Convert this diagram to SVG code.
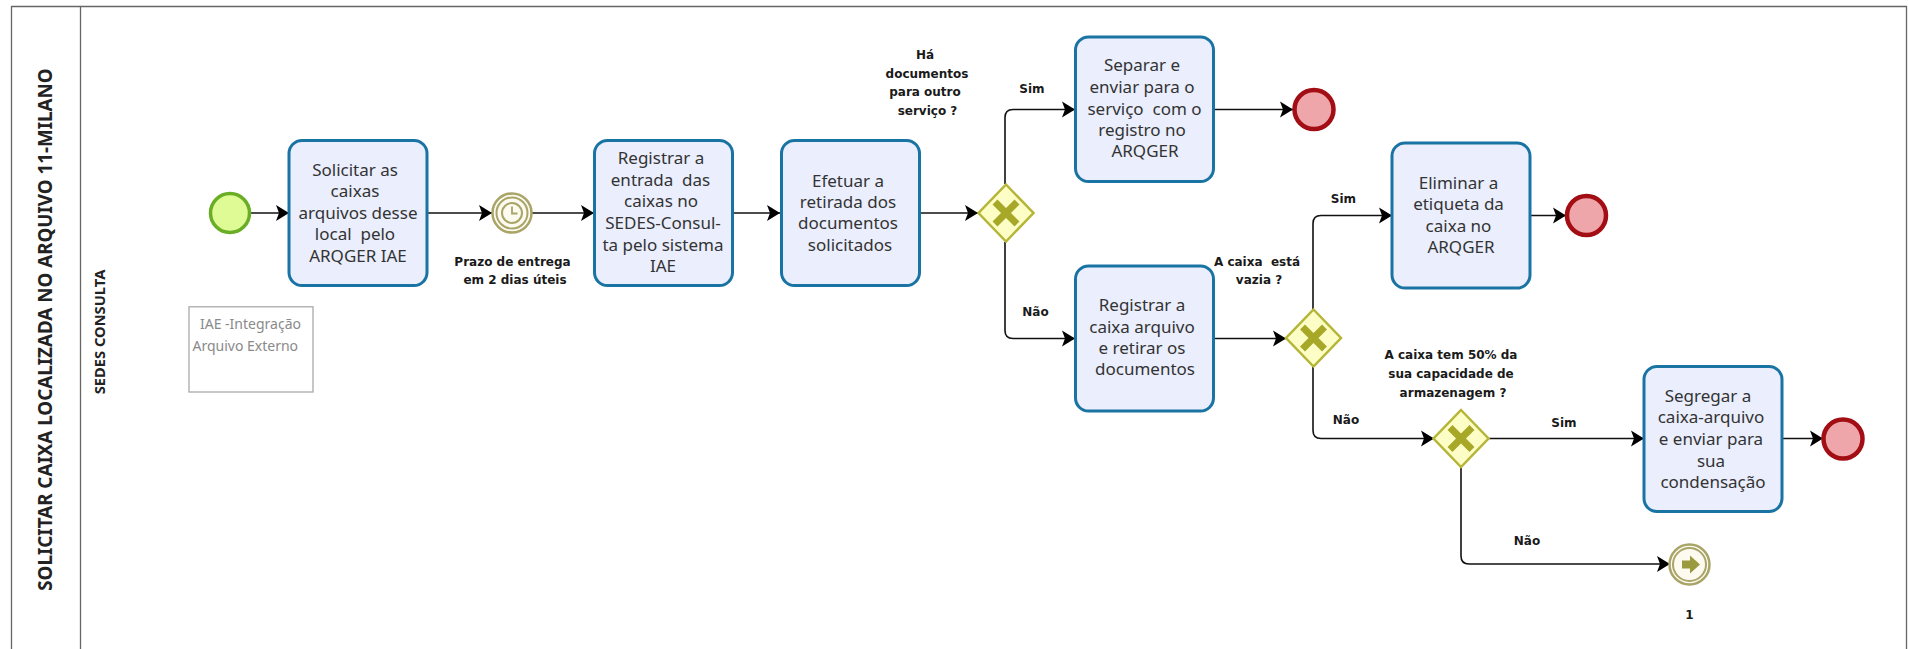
<svg xmlns="http://www.w3.org/2000/svg" width="1909" height="649" viewBox="0 0 1909 649">
<style>
text{white-space:pre}
.t{font:17px "Noto Sans","Open Sans",sans-serif;fill:#333;text-anchor:middle}
.l{font:bold 12px "DejaVu Sans",sans-serif;fill:#1a1a1a;text-anchor:middle}
.n{font:14px "Noto Sans",sans-serif;fill:#8a8a8a}
.task{fill:#eaeefd;stroke:#1a74a3;stroke-width:3}
.ev-s{fill:#dffb96;stroke:#6aae26;stroke-width:3.5}
.ev-e{fill:#eea6ab;stroke:#a20e14;stroke-width:4.5}
.gw{fill:#fdfdc6;stroke:#b5b537;stroke-width:2.5}
.gx{fill:none;stroke:#a8a828;stroke-width:7}
.in{fill:#fdfbf0;stroke:#a9a468;stroke-width:2}
.c{fill:none;stroke:#111;stroke-width:1.6;marker-end:url(#a)}
</style>
<defs>
<marker id="a" markerUnits="userSpaceOnUse" markerWidth="16" markerHeight="18" refX="14" refY="9" orient="auto">
<path d="M1 1L14 9L1 17L4 9Z" fill="#000"/>
</marker>
</defs>
<rect width="1909" height="649" fill="#fff"/>
<g id="pool">
<path d="M11.500 649V6.500H1906.500V649M80.500 6.500V649" fill="none" stroke="#666" stroke-width="1.300"/>
<text transform="translate(51.500 329.500) rotate(-90)" text-anchor="middle" style="font:bold 18.800px 'Noto Sans',sans-serif;fill:#222">SOLICITAR CAIXA LOCALIZADA NO ARQUIVO 11-MILANO</text>
<text transform="translate(105 332) rotate(-90)" text-anchor="middle" style="font:bold 14.700px 'Noto Sans',sans-serif;fill:#222">SEDES CONSULTA</text>
</g>
<g id="connectors">
<path class="c" d="M250 213H289"/>
<path class="c" d="M427 213H492"/>
<path class="c" d="M532 213H594"/>
<path class="c" d="M733 213H780"/>
<path class="c" d="M920 213H978"/>
<path class="c" d="M1005 184V117.500Q1005 109.500 1013 109.500H1075"/>
<path class="c" d="M1005 242V330.500Q1005 338.500 1013 338.500H1075"/>
<path class="c" d="M1214 109.500H1293"/>
<path class="c" d="M1214 338.500H1286"/>
<path class="c" d="M1313 309V223.500Q1313 215.500 1321 215.500H1392"/>
<path class="c" d="M1313 367V430.500Q1313 438.500 1321 438.500H1434"/>
<path class="c" d="M1530 215.500H1566"/>
<path class="c" d="M1489 438.500H1644"/>
<path class="c" d="M1782 438.500H1823"/>
<path class="c" d="M1461 467V556Q1461 564 1469 564H1670"/>
</g>
<g id="start"><circle class="ev-s" cx="230" cy="213" r="19.500"/></g>
<g id="task1"><rect class="task" x="289" y="140.500" width="138" height="145" rx="13"/>
<text class="t" x="355" y="175.500">Solicitar as</text><text class="t" x="355" y="196.700">caixas</text><text class="t" x="358" y="218.500">arquivos desse</text><text class="t" x="355" y="240.300">local  pelo</text><text class="t" x="358" y="261.600">ARQGER IAE</text></g>
<g id="timer"><circle cx="512" cy="213" r="19.500" fill="#fdfbf0" stroke="#a9a468" stroke-width="2.500"/><circle class="in" cx="512" cy="213" r="15.500"/><circle class="in" cx="512" cy="213" r="10"/><path d="M512 206.500V213.500H517.500" fill="none" stroke="#a9a468" stroke-width="1.800"/>
<text class="l" x="512.500" y="265.700">Prazo de entrega</text><text class="l" x="515" y="283.900">em 2 dias úteis</text></g>
<g id="note"><rect x="189" y="306.800" width="124" height="85.200" fill="#fff" stroke="#aaa" stroke-width="1.300"/>
<text class="n" x="200" y="329">IAE -Integração</text><text class="n" x="192.500" y="350.500">Arquivo Externo</text></g>
<g id="task2"><rect class="task" x="594.500" y="140.500" width="138" height="145" rx="13"/>
<text class="t" x="661" y="164.300">Registrar a</text><text class="t" x="660.500" y="186">entrada  das</text><text class="t" x="661" y="207.400">caixas no</text><text class="t" x="663" y="229.200">SEDES-Consul-</text><text class="t" x="663" y="250.500">ta pelo sistema</text><text class="t" x="663" y="271.800">IAE</text></g>
<g id="task3"><rect class="task" x="781.500" y="140.500" width="138" height="145" rx="13"/>
<text class="t" x="848" y="186.600">Efetuar a</text><text class="t" x="848" y="207.900">retirada dos</text><text class="t" x="848" y="229.200">documentos</text><text class="t" x="850" y="250.500">solicitados</text></g>
<g id="gateway1"><path class="gw" d="M1006 184.500L1033.500 213L1006 241.500L978.500 213Z"/><path class="gx" d="M995 202L1017 224M1017 202L995 224"/>
<text class="l" x="925" y="58.800">Há</text><text class="l" x="927" y="77.600">documentos</text><text class="l" x="925" y="96.300">para outro</text><text class="l" x="927.500" y="114.600">serviço ?</text>
<text class="l" x="1032" y="92.800">Sim</text><text class="l" x="1035.500" y="315.900">Não</text></g>
<g id="task4"><rect class="task" x="1075.500" y="37" width="138" height="144.500" rx="13"/>
<text class="t" x="1142" y="71">Separar e</text><text class="t" x="1142" y="93.300">enviar para o</text><text class="t" x="1144.500" y="114.600">serviço  com o</text><text class="t" x="1142" y="135.900">registro no</text><text class="t" x="1145" y="157.200">ARQGER</text></g>
<g id="end1"><circle class="ev-e" cx="1314" cy="109.500" r="19.500"/></g>
<g id="task5"><rect class="task" x="1075.500" y="266" width="138" height="145" rx="13"/>
<text class="t" x="1142" y="311.300">Registrar a</text><text class="t" x="1142" y="332.600">caixa arquivo</text><text class="t" x="1142" y="354.400">e retirar os</text><text class="t" x="1145" y="375.200">documentos</text></g>
<g id="gateway2"><path class="gw" d="M1313.500 309.500L1341 338L1313.500 366.500L1286 338Z"/><path class="gx" d="M1302.500 327L1324.500 349M1324.500 327L1302.500 349"/>
<text class="l" x="1257" y="265.700">A caixa  está</text><text class="l" x="1259" y="283.900">vazia ?</text>
<text class="l" x="1343.500" y="203.300">Sim</text><text class="l" x="1346" y="423.900">Não</text></g>
<g id="task6"><rect class="task" x="1392" y="143" width="138" height="145" rx="13"/>
<text class="t" x="1458.500" y="188.600">Eliminar a</text><text class="t" x="1458.500" y="210.400">etiqueta da</text><text class="t" x="1458.500" y="232.200">caixa no</text><text class="t" x="1461" y="253">ARQGER</text></g>
<g id="end2"><circle class="ev-e" cx="1586.500" cy="215.500" r="19.500"/></g>
<g id="gateway3"><path class="gw" d="M1461 410L1488.500 438.500L1461 467L1433.500 438.500Z"/><path class="gx" d="M1450 427.500L1472 449.500M1472 427.500L1450 449.500"/>
<text class="l" x="1451" y="359">A caixa tem 50% da</text><text class="l" x="1451" y="378.300">sua capacidade de</text><text class="l" x="1453" y="397">armazenagem ?</text>
<text class="l" x="1564" y="426.900">Sim</text><text class="l" x="1527" y="545.100">Não</text></g>
<g id="task7"><rect class="task" x="1644" y="366.500" width="138" height="145" rx="13"/>
<text class="t" x="1708" y="401.600">Segregar a</text><text class="t" x="1711" y="423.400">caixa-arquivo</text><text class="t" x="1711" y="445.200">e enviar para</text><text class="t" x="1711" y="466.500">sua</text><text class="t" x="1713" y="487.800">condensação</text></g>
<g id="end3"><circle class="ev-e" cx="1843" cy="439" r="19.500"/></g>
<g id="link"><circle cx="1689.500" cy="564.500" r="20" fill="#fdfbf0" stroke="#a9a468" stroke-width="2.500"/><circle class="in" cx="1689.500" cy="564.500" r="16.500"/><path d="M1682 560.500H1690V555.500L1700 564.500L1690 573.500V568.500H1682Z" fill="#9c9a3f"/>
<text class="l" x="1689.500" y="618.600">1</text></g>
</svg>
